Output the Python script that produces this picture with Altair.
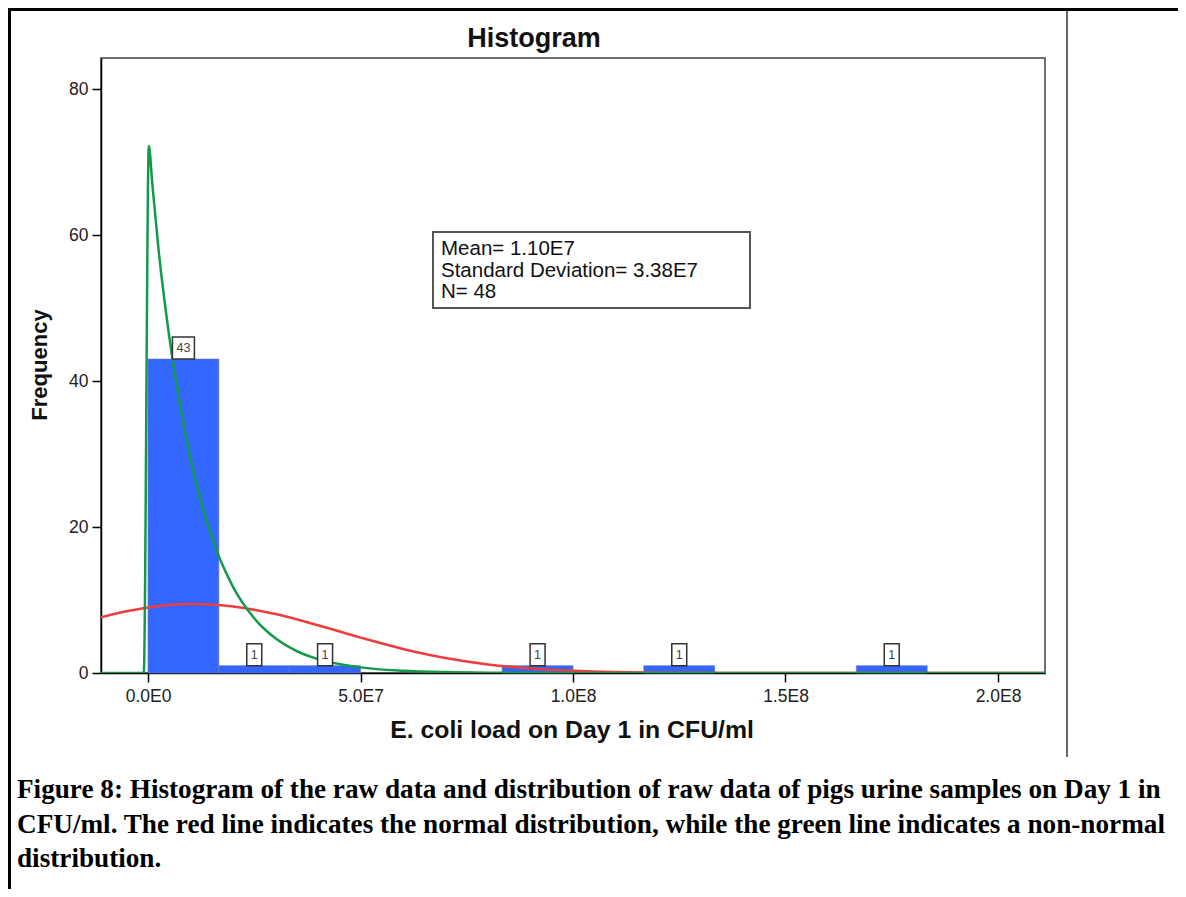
import altair as alt
import pandas as pd

# ---------------- data ----------------
bin_start_e7 = [0.0, 1.6667, 3.3333, 8.3333, 11.6667, 16.6667]
bin_end_e7 = [1.6667, 3.3333, 5.0, 10.0, 13.3333, 18.3333]
counts = [43, 1, 1, 1, 1, 1]

normal_x_e7 = [-1.106, -0.5, 0.0, 0.5, 1.0, 1.5, 2.0, 3.0, 4.0, 5.0, 6.0, 7.0,
               8.0, 9.0, 10.0, 11.0, 12.0, 13.0, 14.0, 16.0, 18.0, 21.106]
normal_y = [7.64, 8.45, 8.96, 9.30, 9.44, 9.38, 9.11, 8.07, 6.54, 4.85, 3.30, 2.06,
            1.18, 0.62, 0.30, 0.13, 0.05, 0.02, 0.01, 0.0, 0.0, 0.0]

nonnormal_x_e7 = [-1.106, -0.1, 0.02, 0.1, 0.25, 0.5, 0.75, 1.0, 1.5, 2.0, 2.5, 3.0,
                  3.5, 4.0, 5.0, 6.0, 7.0, 8.0, 10.0, 12.0, 21.106]
nonnormal_y = [0.0, 0.0, 72.2, 67.1, 57.9, 46.1, 36.8, 29.3, 18.6, 11.8, 7.5, 4.75,
               3.0, 1.9, 0.77, 0.31, 0.12, 0.05, 0.01, 0.0, 0.0]

x_ticks = [0, 5e7, 1e8, 1.5e8, 2e8]
y_ticks = [0, 20, 40, 60, 80]
x_domain = [-1.106e7, 2.1106e8]
y_domain = [0, 84.25]

stat_mean = "1.10E7"
stat_sd = "3.38E7"
stat_n = 48

chart_title = "Histogram"
x_title = "E. coli load on Day 1 in CFU/ml"
y_title = "Frequency"
caption = ("Figure 8: Histogram of the raw data and distribution of raw data of pigs urine samples on Day 1 in\n"
           "CFU/ml. The red line indicates the normal distribution, while the green line indicates a non-normal\n"
           "distribution.")

# ---------------- tables ----------------
E7 = 1e7
bars = pd.DataFrame({
    "x": [v * E7 for v in bin_start_e7],
    "xe": [v * E7 for v in bin_end_e7],
    "y": counts,
})
labels = pd.DataFrame({
    "x": [(a + b) / 2 * E7 for a, b in zip(bin_start_e7, bin_end_e7)],
    "y": counts,
    "label": [str(c) for c in counts],
    "shape": ["M-1,-1H1V1H-1Z" if len(str(c)) > 1 else "M-0.68,-1H0.68V1H-0.68Z" for c in counts],
})
normal = pd.DataFrame({"x": [v * E7 for v in normal_x_e7], "y": normal_y})
nonnormal = pd.DataFrame({"x": [v * E7 for v in nonnormal_x_e7], "y": nonnormal_y})
one = pd.DataFrame({"a": [0]})

FONT = "Liberation Sans"

xs = alt.Scale(domain=x_domain, nice=False, zero=False)
ys = alt.Scale(domain=y_domain, nice=False)

x_axis = alt.Axis(
    values=x_ticks,
    labelExpr="replace(replace(format(datum.value, '.1e'), 'e+', 'E'), 'e-', 'E-')",
    tickSize=9, tickWidth=1.5, tickColor="black",
    domainColor="black", domainWidth=1.5,
    labelFontSize=17.5, labelColor="#222", labelPadding=5, labelFont=FONT,
    grid=False, title=None,
)
y_axis = alt.Axis(
    values=y_ticks,
    tickSize=9, tickWidth=1.5, tickColor="black",
    domainColor="black", domainWidth=1.5,
    labelFontSize=17.5, labelColor="#222", labelPadding=4, labelFont=FONT,
    grid=False, title=None,
)

bar_layer = alt.Chart(bars).mark_rect(
    color="#3366FF", stroke="#6478b8", strokeWidth=0.7
).encode(
    x=alt.X("x:Q", scale=xs, axis=x_axis),
    x2="xe:Q",
    y=alt.Y("y:Q", scale=ys, axis=y_axis),
    y2=alt.datum(0),
)

red_layer = alt.Chart(normal).mark_line(
    color="#F03C3C", strokeWidth=2.5, interpolate="monotone", clip=True
).encode(x=alt.X("x:Q", scale=xs), y=alt.Y("y:Q", scale=ys))

green_layer = alt.Chart(nonnormal).mark_line(
    color="#13994A", strokeWidth=2.5, interpolate="monotone", clip=True
).encode(x=alt.X("x:Q", scale=xs), y=alt.Y("y:Q", scale=ys))

box_layer = alt.Chart(labels).mark_point(
    fill="white", fillOpacity=1, stroke="#333333", strokeWidth=1.5,
    opacity=1, size=484, yOffset=-11
).encode(
    x=alt.X("x:Q", scale=xs), y=alt.Y("y:Q", scale=ys),
    shape=alt.Shape("shape:N", scale=None),
)

box_text = alt.Chart(labels).mark_text(
    fontSize=12.5, color="#444444", yOffset=-11, baseline="middle", font=FONT
).encode(x=alt.X("x:Q", scale=xs), y=alt.Y("y:Q", scale=ys), text="label:N")

stats_box = alt.Chart(one).mark_rect(
    fill="white", stroke="#555555", strokeWidth=2
).encode(x=alt.value(332), x2=alt.value(649), y=alt.value(174), y2=alt.value(250))

stats_text = alt.Chart(one).mark_text(
    align="left", baseline="alphabetic", fontSize=20.5, lineHeight=21.5,
    lineBreak="\n", font=FONT, color="#111"
).encode(
    x=alt.value(340), y=alt.value(197),
    text=alt.value(f"Mean= {stat_mean}\nStandard Deviation= {stat_sd}\nN= {stat_n}"),
)

title_text = alt.Chart(one).mark_text(
    align="center", baseline="alphabetic", fontSize=27, fontWeight="bold", font=FONT, color="#111"
).encode(x=alt.value(433), y=alt.value(-11), text=alt.value(chart_title))

xtitle_text = alt.Chart(one).mark_text(
    align="center", baseline="alphabetic", fontSize=24.8, fontWeight="bold", font=FONT, color="#111"
).encode(x=alt.value(471), y=alt.value(680), text=alt.value(x_title))

ytitle_text = alt.Chart(one).mark_text(
    align="center", baseline="middle", fontSize=22, fontWeight="bold", font=FONT,
    angle=270, color="#111"
).encode(x=alt.value(-61), y=alt.value(307), text=alt.value(y_title))

caption_text = alt.Chart(one).mark_text(
    align="left", baseline="alphabetic", fontSize=27.2, fontWeight="bold",
    font="Liberation Serif", lineHeight=34.5, lineBreak="\n", color="black"
).encode(x=alt.value(-84), y=alt.value(740), text=alt.value(caption))

top_border = alt.Chart(one).mark_rule(color="black", strokeWidth=3).encode(
    x=alt.value(-93), x2=alt.value(1077), y=alt.value(-48.5))
left_border = alt.Chart(one).mark_rule(color="black", strokeWidth=3).encode(
    x=alt.value(-91.5), y=alt.value(-50), y2=alt.value(831))
right_line = alt.Chart(one).mark_rule(color="#666666", strokeWidth=2).encode(
    x=alt.value(966), y=alt.value(-47), y2=alt.value(699))

chart = alt.layer(
    bar_layer, red_layer, green_layer, box_layer, box_text,
    stats_box, stats_text, title_text, xtitle_text, ytitle_text, caption_text,
    top_border, left_border, right_line,
).properties(
    width=944, height=615,
    padding={"left": 93, "top": 50, "right": 133, "bottom": 216},
    autosize=alt.AutoSizeParams(type="none"),
    background="white",
).configure_view(
    stroke="#707070", strokeWidth=2
)

chart.save("out.html", embed_options={"renderer": "svg", "actions": False})
